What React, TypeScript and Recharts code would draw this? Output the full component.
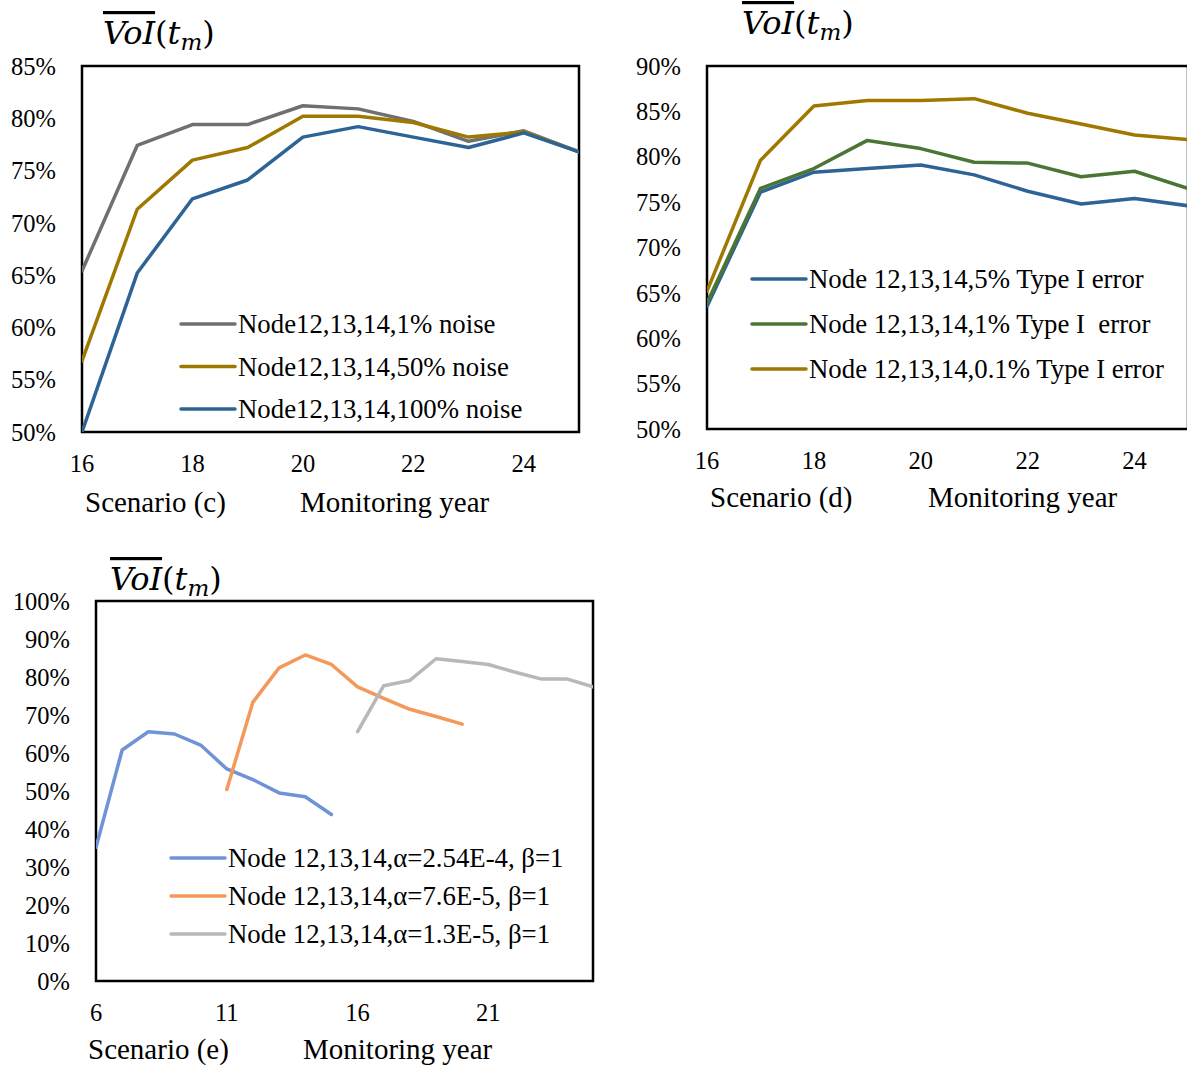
import { LineChart, Line, XAxis, YAxis, ReferenceArea } from "recharts";

// Scenario (c): noise levels
const yearsC = [16, 17, 18, 19, 20, 21, 22, 23, 24, 25];
const noise1 = [65.4, 77.4, 79.4, 79.4, 81.2, 80.9, 79.7, 77.8, 78.8, 76.8];
const noise50 = [56.8, 71.3, 76.0, 77.2, 80.2, 80.2, 79.6, 78.2, 78.7, 76.8];
const noise100 = [50.0, 65.2, 72.3, 74.1, 78.2, 79.2, 78.2, 77.2, 78.6, 76.8];

// Scenario (d): type I error
const yearsD = [16, 17, 18, 19, 20, 21, 22, 23, 24, 25];
const typeI5 = [63.5, 76.1, 78.3, 78.7, 79.1, 78.0, 76.2, 74.8, 75.4, 74.6];
const typeI1 = [63.9, 76.5, 78.7, 81.8, 80.9, 79.4, 79.3, 77.8, 78.4, 76.5];
const typeI01 = [65.2, 79.6, 85.6, 86.2, 86.2, 86.4, 84.8, 83.6, 82.4, 81.9];

// Scenario (e): alpha values, each series starts in a different year
const yearsE = [6, 7, 8, 9, 10, 11, 12, 13, 14, 15, 16, 17, 18, 19, 20, 21, 22, 23, 24, 25];
const alphaHighStart = 6;
const alphaHigh = [35.2, 60.8, 65.6, 65.0, 62.1, 55.8, 53.0, 49.5, 48.5, 43.8];
const alphaMidStart = 11;
const alphaMid = [50.4, 73.4, 82.4, 85.8, 83.3, 77.4, 74.4, 71.5, 69.6, 67.6];
const alphaLowStart = 16;
const alphaLow = [65.6, 77.7, 79.1, 84.8, 84.1, 83.3, 81.3, 79.5, 79.5, 77.4];

const ticksC = [16, 18, 20, 22, 24];
const ticksD = [16, 18, 20, 22, 24];
const ticksE = [6, 11, 16, 21];
const yTicksC = [50, 55, 60, 65, 70, 75, 80, 85];
const yTicksD = [50, 55, 60, 65, 70, 75, 80, 85, 90];
const yTicksE = [0, 10, 20, 30, 40, 50, 60, 70, 80, 90, 100];

const FONT = "'Liberation Serif', 'Times New Roman', serif";

type Series = { key: string; name: string; color: string };

const seriesC: Series[] = [
  { key: "n1", name: "Node12,13,14,1% noise", color: "#707070" },
  { key: "n50", name: "Node12,13,14,50% noise", color: "#9e7800" },
  { key: "n100", name: "Node12,13,14,100% noise", color: "#2e6396" },
];
const seriesD: Series[] = [
  { key: "e5", name: "Node 12,13,14,5% Type I error", color: "#2e6396" },
  { key: "e1", name: "Node 12,13,14,1% Type I  error", color: "#4b7535" },
  { key: "e01", name: "Node 12,13,14,0.1% Type I error", color: "#9e7800" },
];
const seriesE: Series[] = [
  { key: "a", name: "Node 12,13,14,α=2.54E-4, β=1", color: "#6f93d6" },
  { key: "b", name: "Node 12,13,14,α=7.6E-5, β=1", color: "#f4995b" },
  { key: "c", name: "Node 12,13,14,α=1.3E-5, β=1", color: "#b8b8b8" },
];

const rowsC = yearsC.map((year, i) => ({ year, n1: noise1[i], n50: noise50[i], n100: noise100[i] }));
const rowsD = yearsD.map((year, i) => ({ year, e5: typeI5[i], e1: typeI1[i], e01: typeI01[i] }));
const rowsE = yearsE.map((year) => ({
  year,
  a: alphaHigh[year - alphaHighStart],
  b: alphaMid[year - alphaMidStart],
  c: alphaLow[year - alphaLowStart],
}));

interface PanelProps {
  left: number;
  top: number;
  width: number;
  height: number;
  plot: { left: number; top: number; right: number; bottom: number };
  data: any[];
  xDomain: [number, number];
  xTicks: number[];
  yDomain: [number, number];
  yTicks: number[];
  series: Series[];
}

function Panel({ left, top, width, height, plot, data, xDomain, xTicks, yDomain, yTicks, series }: PanelProps) {
  const xAxisHeight = 50;
  const tickStyle = { fill: "#000", fontSize: 24.5, fontFamily: FONT };
  return (
    <div style={{ position: "absolute", left, top }}>
      <LineChart
        width={width}
        height={height}
        data={data}
        margin={{
          top: plot.top - top,
          left: 0,
          right: left + width - plot.right,
          bottom: top + height - plot.bottom - xAxisHeight,
        }}
      >
        <XAxis
          dataKey="year"
          type="number"
          domain={xDomain}
          ticks={xTicks}
          allowDataOverflow
          axisLine={false}
          tickLine={false}
          tickSize={0}
          tickMargin={23}
          height={xAxisHeight}
          tick={tickStyle}
        />
        <YAxis
          type="number"
          domain={yDomain}
          ticks={yTicks}
          allowDataOverflow
          axisLine={false}
          tickLine={false}
          tickSize={0}
          tickMargin={26}
          width={plot.left - left}
          tick={tickStyle}
          tickFormatter={(v) => `${v}%`}
        />
        <ReferenceArea
          x1={xDomain[0]}
          x2={xDomain[1]}
          y1={yDomain[0]}
          y2={yDomain[1]}
          fill="none"
          fillOpacity={0}
          stroke="#000"
          strokeWidth={2.5}
          ifOverflow="visible"
        />
        {series.map((s) => (
          <Line
            key={s.key}
            type="linear"
            dataKey={s.key}
            name={s.name}
            stroke={s.color}
            strokeWidth={3.5}
            strokeLinejoin="round"
            strokeLinecap="round"
            dot={false}
            activeDot={false}
            isAnimationActive={false}
          />
        ))}
      </LineChart>
    </div>
  );
}

// VoI(t_m) heading with the overline
function VoiTitle({ x, y }: { x: number; y: number }) {
  return (
    <text x={x} y={y} fontFamily="'DejaVu Serif', serif" fontSize={32} fill="#000">
      <tspan fontStyle="italic" style={{ textDecoration: "overline" }}>
        VoI
      </tspan>
      <tspan>(</tspan>
      <tspan fontStyle="italic">t</tspan>
      <tspan fontStyle="italic" fontSize={23} dy={6}>
        m
      </tspan>
      <tspan dy={-6}>)</tspan>
    </text>
  );
}

function LegendBlock({ x, y, gap, series }: { x: number; y: number; gap: number; series: Series[] }) {
  return (
    <g>
      {series.map((s, i) => (
        <g key={s.key}>
          <line
            x1={x}
            x2={x + 54}
            y1={y + i * gap}
            y2={y + i * gap}
            stroke={s.color}
            strokeWidth={3.5}
            strokeLinecap="round"
          />
          <text
            x={x + 57}
            y={y + i * gap + 9}
            fontFamily={FONT}
            fontSize={26.8}
            fill="#000"
            style={{ whiteSpace: "pre" }}
          >
            {s.name}
          </text>
        </g>
      ))}
    </g>
  );
}

function AxisCaption({ x, y, scenario, monthX }: { x: number; y: number; scenario: string; monthX: number }) {
  return (
    <g fontFamily={FONT} fontSize={29} fill="#000">
      <text x={x} y={y}>
        {scenario}
      </text>
      <text x={monthX} y={y}>
        Monitoring year
      </text>
    </g>
  );
}

export default function App() {
  return (
    <div
      style={{
        position: "absolute",
        left: 0,
        top: 0,
        width: 1187,
        height: 1068,
        overflow: "hidden",
        background: "#fff",
      }}
    >
      <Panel
        left={0}
        top={0}
        width={600}
        height={520}
        plot={{ left: 82, top: 66, right: 579, bottom: 432 }}
        data={rowsC}
        xDomain={[16, 25]}
        xTicks={ticksC}
        yDomain={[50, 85]}
        yTicks={yTicksC}
        series={seriesC}
      />
      <Panel
        left={600}
        top={0}
        width={600}
        height={520}
        plot={{ left: 707, top: 66, right: 1188, bottom: 429 }}
        data={rowsD}
        xDomain={[16, 25]}
        xTicks={ticksD}
        yDomain={[50, 90]}
        yTicks={yTicksD}
        series={seriesD}
      />
      <Panel
        left={0}
        top={540}
        width={620}
        height={528}
        plot={{ left: 96, top: 601, right: 593, bottom: 981 }}
        data={rowsE}
        xDomain={[6, 25]}
        xTicks={ticksE}
        yDomain={[0, 100]}
        yTicks={yTicksE}
        series={seriesE}
      />
      <svg
        width={1187}
        height={1068}
        style={{ position: "absolute", left: 0, top: 0, pointerEvents: "none" }}
      >
        <VoiTitle x={103} y={44} />
        <VoiTitle x={742} y={34} />
        <VoiTitle x={110} y={590} />
        <LegendBlock x={181} y={324} gap={42.5} series={seriesC} />
        <LegendBlock x={752} y={279} gap={45} series={seriesD} />
        <LegendBlock x={171} y={858} gap={38} series={seriesE} />
        <AxisCaption x={85} y={512} scenario="Scenario (c)" monthX={300} />
        <AxisCaption x={710} y={507} scenario="Scenario (d)" monthX={928} />
        <AxisCaption x={88} y={1059} scenario="Scenario (e)" monthX={303} />
      </svg>
    </div>
  );
}
